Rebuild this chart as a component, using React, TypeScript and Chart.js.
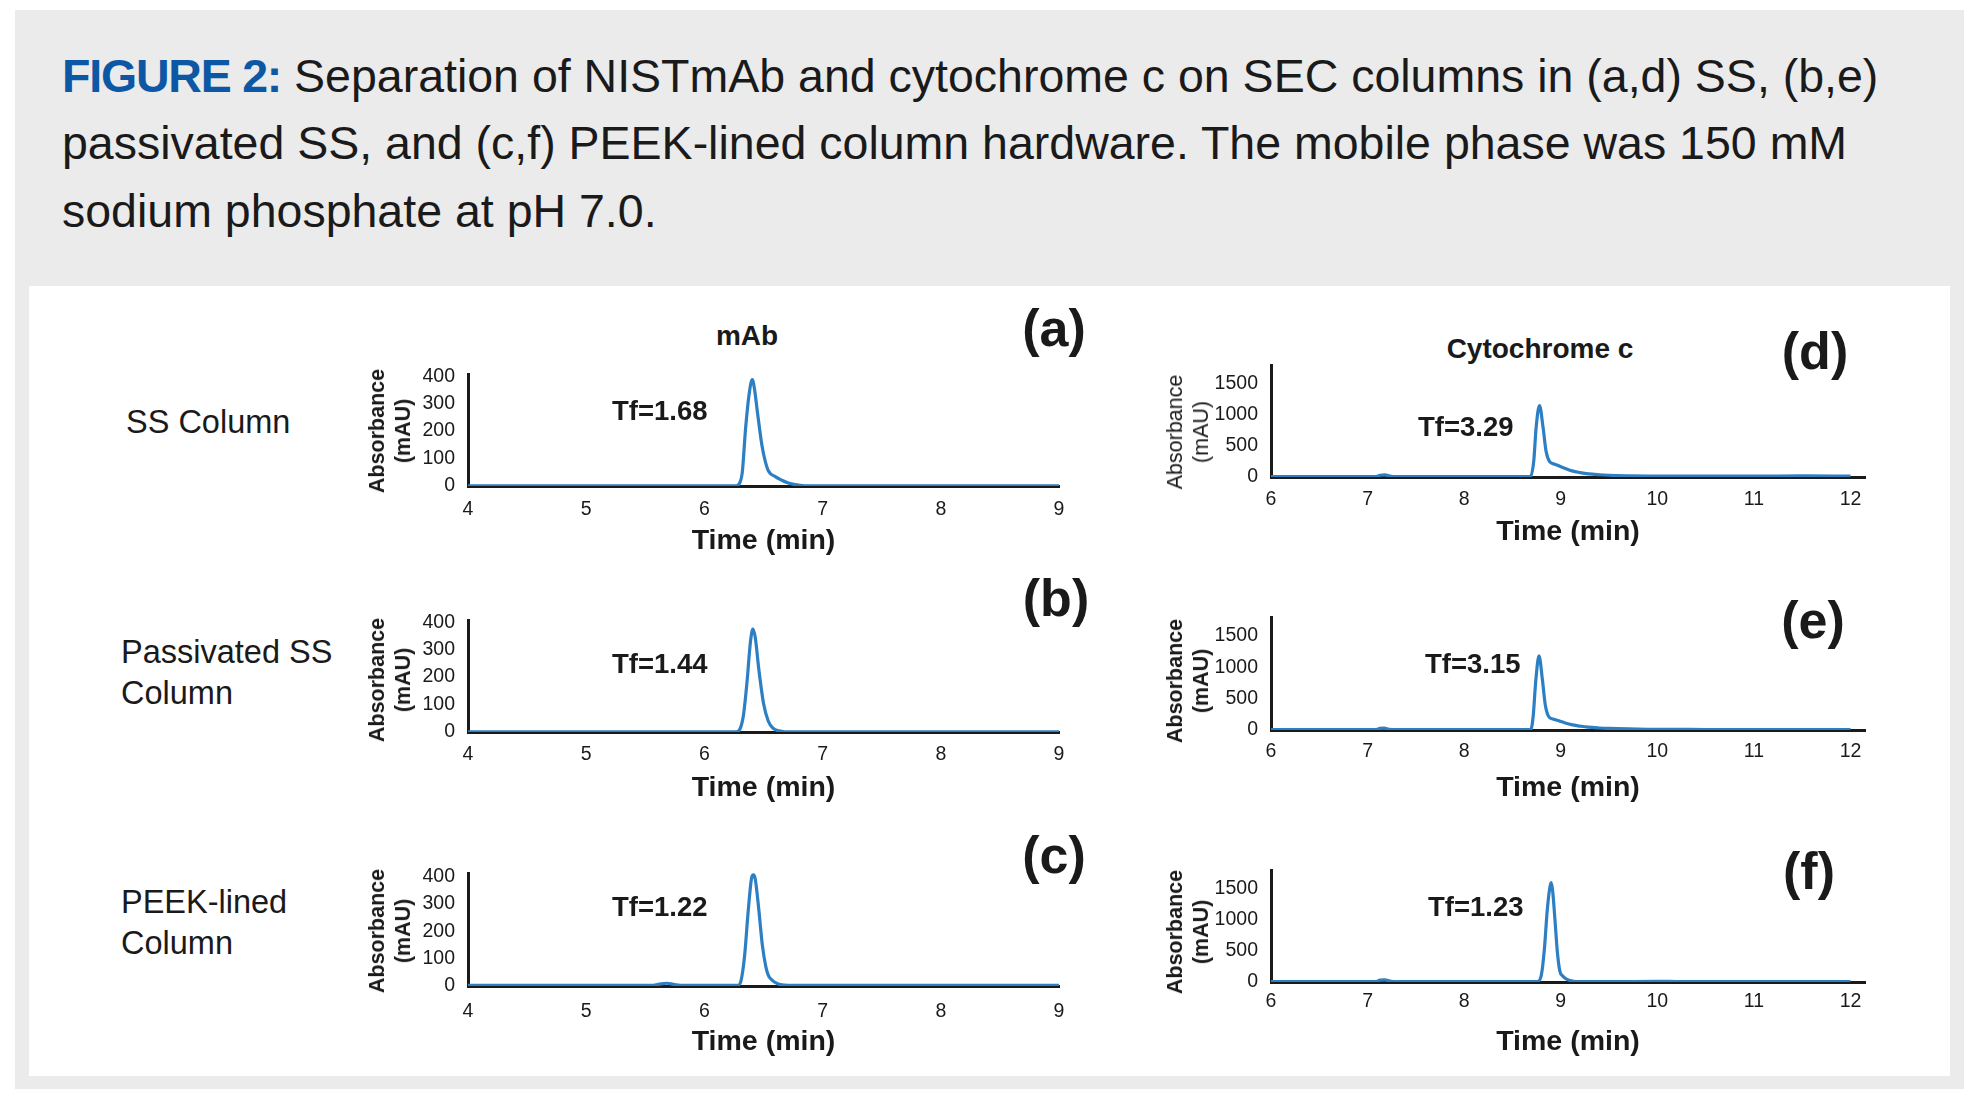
import React, { useEffect, useRef } from "react";
import { Chart, registerables } from "chart.js";

Chart.register(...registerables);

const FONT = "'Liberation Sans', Arial, Helvetica, sans-serif";
const LINE_BLUE = "rgb(45,127,196)";
const CAPTION_BLUE = "rgb(13,88,165)";
const INK = "#1a1a1a";

// ---------- tick labels ----------
const mAbTicksX = [4, 5, 6, 7, 8, 9];
const mAbTicksY = [0, 100, 200, 300, 400];
const cytTicksX = [6, 7, 8, 9, 10, 11, 12];
const cytTicksY = [0, 500, 1000, 1500];

// ---------- (a) NISTmAb, SS column ----------
const ssMabTime = [4.0, 5.0, 5.8, 6.2, 6.27, 6.3, 6.32, 6.35, 6.38, 6.405, 6.425, 6.446, 6.468, 6.488, 6.515, 6.543, 6.6, 6.655, 6.71, 6.768, 6.85, 6.95, 7.5, 8.0, 8.5, 9.0];
const ssMabAbs = [1, 1, 1, 1, 1, 12, 48, 218, 340, 388, 350, 278, 205, 145, 90, 54, 34, 21, 11, 5, 1, 0.5, 0.5, 0.5, 0.5, 0.5];

// ---------- (b) NISTmAb, passivated SS ----------
const passMabTime = [4.0, 5.0, 5.8, 6.2, 6.27, 6.3, 6.33, 6.36, 6.39, 6.41, 6.43, 6.46, 6.5, 6.54, 6.58, 6.63, 6.68, 7.0, 8.0, 9.0];
const passMabAbs = [1, 1, 1, 1, 1, 10, 60, 180, 330, 375, 345, 230, 105, 40, 14, 4, 1, 0.5, 0.5, 0.5];

// ---------- (c) NISTmAb, PEEK-lined ----------
const peekMabTime = [4.0, 5.0, 5.55, 5.62, 5.68, 5.74, 5.82, 6.2, 6.28, 6.31, 6.34, 6.37, 6.4, 6.415, 6.43, 6.46, 6.49, 6.52, 6.54, 6.57, 6.62, 6.68, 6.75, 7.0, 8.0, 9.0];
const peekMabAbs = [2, 2, 2, 7, 10, 6, 2, 2, 2, 20, 110, 270, 395, 405, 390, 280, 150, 70, 40, 22, 8, 3, 2, 2, 2, 2];

// ---------- (d) cytochrome c, SS column ----------
const ssCytTime = [6.0, 7.0, 7.08, 7.13, 7.18, 7.23, 7.3, 8.0, 8.6, 8.686, 8.72, 8.745, 8.78, 8.817, 8.848, 8.883, 8.93, 8.979, 9.05, 9.116, 9.2, 9.289, 9.4, 9.495, 9.7, 9.907, 10.5, 11.0, 11.5, 12.0];
const ssCytAbs = [5, 5, 5, 28, 35, 15, 6, 8, 8, 8, 250, 794, 1146, 794, 413, 250, 210, 180, 135, 98, 70, 49, 36, 28, 20, 16, 15, 15, 18, 15];

// ---------- (e) cytochrome c, passivated SS ----------
const passCytTime = [6.0, 7.0, 7.08, 7.13, 7.17, 7.22, 7.3, 8.0, 8.6, 8.69, 8.715, 8.74, 8.775, 8.81, 8.84, 8.875, 8.92, 8.97, 9.04, 9.11, 9.2, 9.28, 9.4, 9.5, 9.7, 9.9, 10.5, 11.0, 11.5, 12.0];
const passCytAbs = [5, 5, 5, 25, 30, 12, 5, 8, 8, 8, 230, 760, 1180, 800, 400, 215, 175, 150, 115, 85, 62, 45, 32, 25, 17, 12, 8, 6, 6, 6];

// ---------- (f) cytochrome c, PEEK-lined ----------
const peekCytTime = [6.0, 7.0, 7.08, 7.13, 7.18, 7.23, 7.3, 8.0, 8.6, 8.76, 8.8, 8.83, 8.86, 8.885, 8.9, 8.915, 8.94, 8.965, 8.99, 9.02, 9.06, 9.12, 9.2, 9.5, 10.0, 10.2, 11.0, 12.0];
const peekCytAbs = [5, 5, 5, 30, 35, 15, 5, 5, 8, 8, 120, 520, 1150, 1500, 1596, 1480, 1000, 480, 180, 95, 45, 15, 6, 6, 10, 8, 6, 6];

const tailingFactors = ["Tf=1.68", "Tf=1.44", "Tf=1.22", "Tf=3.29", "Tf=3.15", "Tf=1.23"];
const panelLetters = ["(a)", "(b)", "(c)", "(d)", "(e)", "(f)"];

type PanelLayout = {
  plotLeft: number; plotRight: number; plotTop: number; plotBottom: number;
  xMin: number; xMax: number; yMax: number;
  xTicks: number[]; yTicks: number[];
  time: number[]; abs: number[];
  tickGap: number; titleGap: number;
  yTitleX: number; yTitleY: number; yTitleBold: boolean;
  tfX: number; tfBase: number;
  letterX: number; letterBase: number;
};

const panels: PanelLayout[] = [
  { plotLeft: 468, plotRight: 1059, plotTop: 374, plotBottom: 486, xMin: 4, xMax: 9, yMax: 408, xTicks: mAbTicksX, yTicks: mAbTicksY, time: ssMabTime, abs: ssMabAbs, tickGap: 24, titleGap: 55, yTitleX: 390, yTitleY: 431, yTitleBold: true, tfX: 612, tfBase: 420, letterX: 1054, letterBase: 346 },
  { plotLeft: 468, plotRight: 1059, plotTop: 620, plotBottom: 732, xMin: 4, xMax: 9, yMax: 408, xTicks: mAbTicksX, yTicks: mAbTicksY, time: passMabTime, abs: passMabAbs, tickGap: 23, titleGap: 56, yTitleX: 390, yTitleY: 680, yTitleBold: true, tfX: 612, tfBase: 673, letterX: 1056, letterBase: 616 },
  { plotLeft: 468, plotRight: 1059, plotTop: 873, plotBottom: 986, xMin: 4, xMax: 9, yMax: 412, xTicks: mAbTicksX, yTicks: mAbTicksY, time: peekMabTime, abs: peekMabAbs, tickGap: 26, titleGap: 56, yTitleX: 390, yTitleY: 931, yTitleBold: true, tfX: 612, tfBase: 916, letterX: 1054, letterBase: 873 },
  { plotLeft: 1271, plotRight: 1865, plotTop: 365, plotBottom: 477, xMin: 6, xMax: 12.15, yMax: 1800, xTicks: cytTicksX, yTicks: cytTicksY, time: ssCytTime, abs: ssCytAbs, tickGap: 23, titleGap: 55, yTitleX: 1188, yTitleY: 432, yTitleBold: false, tfX: 1418, tfBase: 436, letterX: 1815, letterBase: 369 },
  { plotLeft: 1271, plotRight: 1865, plotTop: 617, plotBottom: 730, xMin: 6, xMax: 12.15, yMax: 1800, xTicks: cytTicksX, yTicks: cytTicksY, time: passCytTime, abs: passCytAbs, tickGap: 22, titleGap: 58, yTitleX: 1188, yTitleY: 681, yTitleBold: true, tfX: 1425, tfBase: 673, letterX: 1813, letterBase: 638 },
  { plotLeft: 1271, plotRight: 1865, plotTop: 870, plotBottom: 982, xMin: 6, xMax: 12.15, yMax: 1800, xTicks: cytTicksX, yTicks: cytTicksY, time: peekCytTime, abs: peekCytAbs, tickGap: 20, titleGap: 60, yTitleX: 1188, yTitleY: 932, yTitleBold: true, tfX: 1428, tfBase: 916, letterX: 1809, letterBase: 889 },
];

const YW = 110, PT = 16, PR = 24, XH = 84;
const TICK_SIZE = 19.5, XTITLE_SIZE = 28.5;

function Chromatogram({ p }: { p: PanelLayout }) {
  const ref = useRef<HTMLCanvasElement | null>(null);
  const plotW = p.plotRight - p.plotLeft;
  const plotH = p.plotBottom - p.plotTop;
  const W = YW + plotW + PR;
  const H = PT + plotH + XH;

  useEffect(() => {
    if (!ref.current) return;
    const xLabelPad = p.tickGap - (TICK_SIZE * 1.2) / 2;
    const titlePadBottom = XH - p.titleGap - (XTITLE_SIZE * 1.2) / 2;
    const chart = new Chart(ref.current, {
      type: "line",
      data: {
        datasets: [
          {
            data: p.time.map((t, i) => ({ x: t, y: p.abs[i] })),
            borderColor: LINE_BLUE,
            borderWidth: 3.2,
            pointRadius: 0,
            fill: false,
            cubicInterpolationMode: "monotone",
          },
        ],
      },
      options: {
        animation: false,
        responsive: false,
        events: [],
        layout: { padding: { left: 0, top: PT, right: PR, bottom: 0 } },
        plugins: { legend: { display: false }, tooltip: { enabled: false }, title: { display: false } },
        scales: {
          x: {
            type: "linear",
            min: p.xMin,
            max: p.xMax,
            grid: { display: false, drawTicks: false },
            border: { display: true, color: INK, width: 3 },
            ticks: {
              autoSkip: false,
              maxRotation: 0,
              padding: xLabelPad,
              color: INK,
              font: { family: FONT, size: TICK_SIZE },
              callback: (v: any) => String(v),
            },
            afterBuildTicks: (s: any) => {
              s.ticks = p.xTicks.map((v) => ({ value: v }));
            },
            afterFit: (s: any) => {
              s.height = XH;
              s.paddingLeft = 0;
              s.paddingRight = 0;
            },
            title: {
              display: true,
              text: "Time (min)",
              color: INK,
              font: { family: FONT, size: XTITLE_SIZE, weight: "bold" },
              padding: { top: 0, bottom: titlePadBottom },
            },
          },
          y: {
            type: "linear",
            min: 0,
            max: p.yMax,
            grid: { display: false, drawTicks: false },
            border: { display: true, color: INK, width: 3 },
            ticks: {
              autoSkip: false,
              padding: 13,
              color: INK,
              font: { family: FONT, size: TICK_SIZE },
              callback: (v: any) => String(v),
            },
            afterBuildTicks: (s: any) => {
              s.ticks = p.yTicks.map((v) => ({ value: v }));
            },
            afterFit: (s: any) => {
              s.width = YW;
              s.paddingTop = 0;
              s.paddingBottom = 0;
            },
          },
        },
      },
    } as any);
    return () => chart.destroy();
  }, []);

  return (
    <canvas
      ref={ref}
      width={W}
      height={H}
      style={{ position: "absolute", left: p.plotLeft - YW, top: p.plotTop - PT, width: W, height: H }}
    />
  );
}

function Txt({ x, base, size, bold = false, center = false, color = INK, children }: any) {
  return (
    <div
      style={{
        position: "absolute",
        left: x,
        top: base - 0.8465 * size,
        fontSize: size,
        lineHeight: `${size}px`,
        fontWeight: bold ? 700 : 400,
        fontFamily: FONT,
        color,
        whiteSpace: "pre",
        transform: center ? "translateX(-50%)" : undefined,
      }}
    >
      {children}
    </div>
  );
}

function YTitle({ x, y, bold }: { x: number; y: number; bold: boolean }) {
  return (
    <div
      style={{
        position: "absolute",
        left: x,
        top: y,
        transform: "translate(-50%, -50%) rotate(-90deg)",
        fontFamily: FONT,
        fontSize: 21.5,
        lineHeight: "26px",
        fontWeight: bold ? 700 : 400,
        color: INK,
        textAlign: "center",
        whiteSpace: "nowrap",
      }}
    >
      Absorbance
      <br />
      (mAU)
    </div>
  );
}

export default function App() {
  return (
    <div style={{ position: "absolute", left: 0, top: 0, width: 1976, height: 1102, background: "#fff", overflow: "hidden" }}>
      <div style={{ position: "absolute", left: 15, top: 10, width: 1964 - 15, height: 1089 - 10, background: "#ebebeb" }} />
      <div style={{ position: "absolute", left: 29, top: 286, width: 1950 - 29, height: 1076 - 286, background: "#fff" }} />

      <Txt x={62} base={92} size={46.5}>
        <span style={{ color: CAPTION_BLUE, fontWeight: 700, letterSpacing: "-1.2px" }}>FIGURE 2:</span> Separation of NISTmAb and cytochrome c on SEC columns in (a,d) SS, (b,e)
      </Txt>
      <Txt x={62} base={159} size={46.5}>passivated SS, and (c,f) PEEK-lined column hardware. The mobile phase was 150 mM</Txt>
      <Txt x={62} base={227} size={46.5}>sodium phosphate at pH 7.0.</Txt>

      <Txt x={126} base={434} size={32.5}>SS Column</Txt>
      <Txt x={121} base={664} size={32.5}>Passivated SS</Txt>
      <Txt x={121} base={705} size={32.5}>Column</Txt>
      <Txt x={121} base={914} size={32.5}>PEEK-lined</Txt>
      <Txt x={121} base={955} size={32.5}>Column</Txt>

      <Txt x={747} base={346} size={28} bold center>mAb</Txt>
      <Txt x={1540} base={359} size={28} bold center>Cytochrome c</Txt>

      {panels.map((p, i) => (
        <React.Fragment key={i}>
          <Chromatogram p={p} />
          <YTitle x={p.yTitleX} y={p.yTitleY} bold={p.yTitleBold} />
          <Txt x={p.tfX} base={p.tfBase} size={27.5} bold>{tailingFactors[i]}</Txt>
          <Txt x={p.letterX} base={p.letterBase} size={52} bold center>{panelLetters[i]}</Txt>
        </React.Fragment>
      ))}
    </div>
  );
}
